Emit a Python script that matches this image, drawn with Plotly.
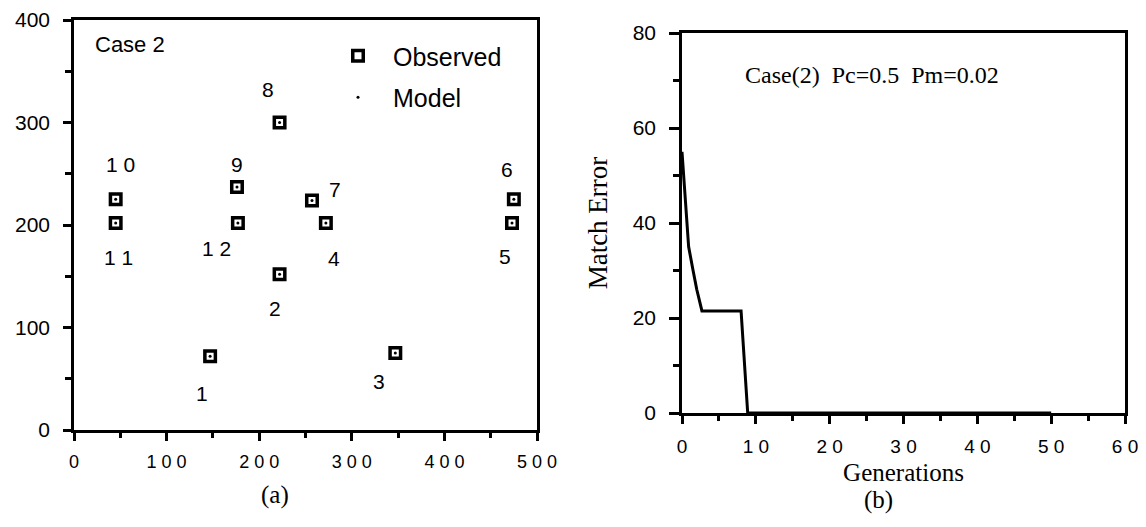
import plotly.graph_objects as go

# ---------------- data: panel (a) ----------------
point_ids = [1, 2, 3, 4, 5, 6, 7, 8, 9, 10, 11, 12]
obs_x = [147, 222, 347, 272, 473, 475, 257, 222, 176, 45, 45, 177]
obs_y = [72, 152, 75, 202, 202, 225, 224, 300, 237, 225, 202, 202]
model_x = [147, 222, 347, 272, 473, 475, 257, 222, 176, 45, 45, 177]
model_y = [72, 152, 75, 202, 202, 225, 224, 300, 237, 225, 202, 202]
label_text = ["1", "2", "3", "4", "5", "6", "7", "8", "9", "1 0", "1 1", "1 2"]
label_x = [138, 217, 329, 281, 465, 468, 282, 209, 176, 50, 48, 154]
label_y = [36, 119, 47, 167, 169, 254, 235, 332, 259, 259, 168, 177]

xa_ticks = [0, 100, 200, 300, 400, 500]
xa_ticktext = ["0", "1 0 0", "2 0 0", "3 0 0", "4 0 0", "5 0 0"]
ya_ticks = [0, 100, 200, 300, 400]
ya_ticktext = ["0", "100", "200", "300", "400"]

# ---------------- data: panel (b) ----------------
generations = [0, 0.45, 0.9, 1.5, 2.0, 2.7, 8.0, 8.9, 50]
match_error = [55, 45, 35, 30, 26, 21.5, 21.5, 0, 0]

xb_ticks = [0, 10, 20, 30, 40, 50, 60]
xb_ticktext = ["0", "1 0", "2 0", "3 0", "4 0", "5 0", "6 0"]
yb_ticks = [0, 20, 40, 60, 80]
yb_ticktext = ["0", "20", "40", "60", "80"]

W, H = 1146, 527
SANS = "Liberation Sans, Arial, Helvetica, sans-serif"
SERIF = "Liberation Serif, Times New Roman, serif"


def px_x(p):
    return p / W


def px_y(p):
    return 1 - p / H


fig = go.Figure()

fig.add_trace(go.Scatter(
    x=obs_x, y=obs_y, mode="markers", name="Observed",
    marker=dict(symbol="square-open", size=10.5, color="black",
                line=dict(width=3.5, color="black")),
    xaxis="x", yaxis="y", showlegend=True, legendgroup="o",
))
fig.add_trace(go.Scatter(
    x=model_x, y=model_y, mode="markers", name="Model",
    marker=dict(symbol="circle", size=3, color="black"),
    xaxis="x", yaxis="y", showlegend=True, legendgroup="m",
))
fig.add_trace(go.Scatter(
    x=generations, y=match_error, mode="lines",
    line=dict(color="black", width=3),
    xaxis="x2", yaxis="y2", showlegend=False,
))

axis_common = dict(
    showline=True, linecolor="black", linewidth=2.5, mirror=True,
    showgrid=False, zeroline=False, ticks="outside", tickcolor="black",
    tickwidth=2.5, color="black", automargin=False,
)

annotations = []
for t, x, y in zip(label_text, label_x, label_y):
    annotations.append(dict(x=x, y=y, xref="x", yref="y", text=t, showarrow=False,
                            font=dict(family=SANS, size=21, color="black"),
                            xanchor="center", yanchor="middle"))
annotations.append(dict(x=60.5, y=376, xref="x", yref="y", text="Case 2", showarrow=False,
                        font=dict(family=SANS, size=22, color="black"),
                        xanchor="center", yanchor="middle"))
annotations.append(dict(x=25.7, y=71.2, xref="x2", yref="y2",
                        text="Case(2)  Pc=0.5  Pm=0.02", showarrow=False,
                        font=dict(family=SERIF, size=24, color="black"),
                        xanchor="center", yanchor="middle"))
annotations.append(dict(x=px_x(275), y=px_y(495), xref="paper", yref="paper",
                        text="(a)", showarrow=False,
                        font=dict(family=SERIF, size=25, color="black"),
                        xanchor="center", yanchor="middle"))
annotations.append(dict(x=px_x(878), y=px_y(500), xref="paper", yref="paper",
                        text="(b)", showarrow=False,
                        font=dict(family=SERIF, size=25, color="black"),
                        xanchor="center", yanchor="middle"))

fig.update_layout(
    width=W, height=H,
    margin=dict(l=0, r=0, t=0, b=0, autoexpand=False),
    paper_bgcolor="white", plot_bgcolor="white",
    xaxis=dict(domain=[px_x(74), px_x(537)], range=[0, 500], anchor="y",
               tickvals=xa_ticks, ticktext=xa_ticktext, ticklen=8,
               tickfont=dict(family=SANS, size=18, color="black"),
               ticklabelstandoff=6,
               minor=dict(dtick=50, tick0=0, ticks="outside", ticklen=5,
                          tickcolor="black", tickwidth=2.5, showgrid=False),
               **axis_common),
    yaxis=dict(domain=[px_y(430), px_y(20)], range=[0, 400], anchor="x",
               tickvals=ya_ticks, ticktext=ya_ticktext, ticklen=8,
               tickfont=dict(family=SANS, size=21, color="black"),
               ticklabelstandoff=9,
               minor=dict(dtick=50, tick0=0, ticks="outside", ticklen=6,
                          tickcolor="black", tickwidth=2.5, showgrid=False),
               **axis_common),
    xaxis2=dict(domain=[px_x(682), px_x(1125)], range=[0, 60], anchor="y2",
                tickvals=xb_ticks, ticktext=xb_ticktext, ticklen=8,
                tickfont=dict(family=SANS, size=19, color="black"),
                ticklabelstandoff=6,
                title=dict(text="Generations", standoff=8,
                           font=dict(family=SERIF, size=25, color="black")),
                minor=dict(dtick=5, tick0=0, ticks="outside", ticklen=5,
                           tickcolor="black", tickwidth=2.5, showgrid=False),
                **axis_common),
    yaxis2=dict(domain=[px_y(413), px_y(33)], range=[0, 80], anchor="x2",
                tickvals=yb_ticks, ticktext=yb_ticktext, ticklen=10,
                tickfont=dict(family=SANS, size=21, color="black"),
                ticklabelstandoff=9,
                title=dict(text="Match Error", standoff=18,
                           font=dict(family=SERIF, size=27, color="black")),
                minor=dict(dtick=10, tick0=0, ticks="outside", ticklen=6,
                           tickcolor="black", tickwidth=2.5, showgrid=False),
                **axis_common),
    legend=dict(x=px_x(323), y=px_y(33), xanchor="left", yanchor="top",
                bgcolor="rgba(0,0,0,0)", borderwidth=0,
                font=dict(family=SANS, size=25, color="black"),
                tracegroupgap=6, itemwidth=60),
    annotations=annotations,
)

fig.write_html("out.html")
